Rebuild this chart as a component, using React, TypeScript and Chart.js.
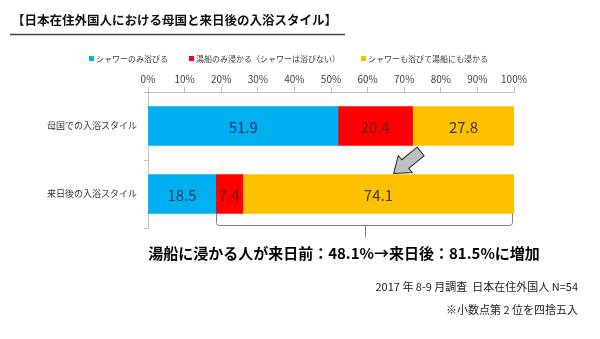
import { useEffect, useRef } from 'react';
import { Chart, registerables } from 'chart.js';

Chart.register(...registerables);

// Bathing style of foreign residents in Japan: home country vs. after arriving in Japan
const categories = ['母国での入浴スタイル', '来日後の入浴スタイル'];
const seriesNames = [
  'シャワーのみ浴びる',
  '湯船のみ浸かる（シャワーは浴びない）',
  'シャワーも浴びて湯船にも浸かる',
];
const showerOnly = [51.9, 18.5];
const bathOnly = [20.4, 7.4];
const showerAndBath = [27.8, 74.1];
const percentTicks = [0, 10, 20, 30, 40, 50, 60, 70, 80, 90, 100];

const titleText = '【日本在住外国人における母国と来日後の入浴スタイル】';
const summaryText = '湯船に浸かる人が来日前：48.1%→来日後：81.5%に増加';
const surveyNote = '2017 年 8-9 月調査  日本在住外国人 N=54';
const roundingNote = '※小数点第 2 位を四捨五入';

const seriesColors = ['#00B0F0', '#FF0000', '#FFC000'];
const valueLabelColors = ['#1F3864', '#6B1A1A', '#3A3A3A'];
const FONT = '"Noto Sans CJK JP", "Noto Sans", sans-serif';

const decorations = {
  id: 'decorations',
  beforeDraw(chart: any) {
    const { ctx, width, height } = chart;
    ctx.save();
    ctx.fillStyle = '#ffffff';
    ctx.fillRect(0, 0, width, height);
    ctx.restore();
  },
  afterDatasetsDraw(chart: any) {
    const { ctx } = chart;
    ctx.save();
    ctx.font = `15px ${FONT}`;
    ctx.textAlign = 'center';
    ctx.textBaseline = 'middle';
    chart.data.datasets.forEach((ds: any, di: number) => {
      const meta = chart.getDatasetMeta(di);
      meta.data.forEach((el: any, i: number) => {
        const { x, base, y } = el.getProps(['x', 'base', 'y'], true);
        ctx.fillStyle = valueLabelColors[di];
        ctx.fillText(Number(ds.data[i]).toFixed(1), (x + base) / 2, y + 1);
      });
    });
    ctx.restore();
  },
  afterDraw(chart: any) {
    const { ctx, scales } = chart;
    const xs = scales.x;
    ctx.save();

    // Title with underline
    ctx.font = `bold 12.5px ${FONT}`;
    ctx.fillStyle = '#111';
    ctx.textAlign = 'left';
    ctx.textBaseline = 'middle';
    ctx.fillText(titleText, 12, 20);
    ctx.strokeStyle = '#404040';
    ctx.lineWidth = 1.5;
    ctx.beginPath();
    ctx.moveTo(10, 34.5);
    ctx.lineTo(345, 34.5);
    ctx.stroke();

    // Legend
    ctx.font = `8px ${FONT}`;
    let lx = 89;
    seriesNames.forEach((name, i) => {
      ctx.fillStyle = seriesColors[i];
      ctx.fillRect(lx, 56, 5, 5);
      ctx.fillStyle = '#404040';
      ctx.fillText(name, lx + 7, 58.5);
      lx += 7 + ctx.measureText(name).width + 21;
    });

    // Block arrow between the two bars
    const bar1 = chart.getDatasetMeta(1).data[0].getProps(['x', 'y', 'height'], true);
    const tailX = bar1.x + 8;
    const tailY = bar1.y + bar1.height / 2 + 6;
    const tipX = tailX - 27;
    const tipY = tailY + 22;
    const ang = Math.atan2(tipY - tailY, tipX - tailX);
    const L = Math.hypot(tipX - tailX, tipY - tailY);
    const hl = 15, hw = 11, sw = 5.5;
    ctx.translate(tailX, tailY);
    ctx.rotate(ang);
    ctx.beginPath();
    ctx.moveTo(0, -sw);
    ctx.lineTo(L - hl, -sw);
    ctx.lineTo(L - hl, -hw);
    ctx.lineTo(L, 0);
    ctx.lineTo(L - hl, hw);
    ctx.lineTo(L - hl, sw);
    ctx.lineTo(0, sw);
    ctx.closePath();
    ctx.fillStyle = '#BFBFBF';
    ctx.fill();
    ctx.strokeStyle = '#262626';
    ctx.lineWidth = 1;
    ctx.stroke();
    ctx.setTransform(1, 0, 0, 1, 0, 0);

    // Bracket under the bath-taking portion of the second bar
    const bar2 = chart.getDatasetMeta(0).data[1].getProps(['x', 'y', 'height'], true);
    const bx1 = Math.round(xs.getPixelForValue(showerOnly[1])) + 0.5;
    const bx2 = Math.round(xs.getPixelForValue(100)) - 1.5;
    const top = bar2.y + bar2.height / 2;
    const bot = top + 12;
    const mid = Math.round((bx1 + bx2) / 2) + 0.5;
    ctx.strokeStyle = '#7F7F7F';
    ctx.lineWidth = 1;
    ctx.beginPath();
    ctx.moveTo(bx1, top);
    ctx.lineTo(bx1, bot - 3);
    ctx.quadraticCurveTo(bx1, bot, bx1 + 3, bot);
    ctx.lineTo(bx2 - 3, bot);
    ctx.quadraticCurveTo(bx2, bot, bx2, bot - 3);
    ctx.lineTo(bx2, top);
    ctx.moveTo(mid, bot);
    ctx.lineTo(mid, bot + 12);
    ctx.stroke();

    // Summary line and notes
    ctx.fillStyle = '#000';
    ctx.font = `bold 15px ${FONT}`;
    ctx.textAlign = 'center';
    ctx.fillText(summaryText, 344, 253);
    ctx.font = `11px ${FONT}`;
    ctx.fillStyle = '#222';
    ctx.textAlign = 'right';
    ctx.fillText(surveyNote, 578, 287);
    ctx.fillText(roundingNote, 578, 310);

    ctx.restore();
  },
};

export default function App() {
  const canvasRef = useRef<HTMLCanvasElement>(null);

  useEffect(() => {
    const values = [showerOnly, bathOnly, showerAndBath];
    const chart = new Chart(canvasRef.current as HTMLCanvasElement, {
      type: 'bar',
      data: {
        labels: categories,
        datasets: seriesNames.map((name, i) => ({
          label: name,
          data: values[i],
          backgroundColor: seriesColors[i],
          borderWidth: 0,
          barThickness: 39,
        })),
      },
      options: {
        indexAxis: 'y',
        animation: false,
        responsive: false,
        events: [],
        layout: { padding: { left: 0, right: 86, top: 60, bottom: 111 } },
        plugins: {
          legend: { display: false },
          title: { display: false },
          tooltip: { enabled: false },
        },
        scales: {
          x: {
            type: 'linear',
            position: 'top',
            stacked: true,
            min: 0,
            max: 100,
            afterBuildTicks: (s: any) => {
              s.ticks = percentTicks.map((v) => ({ value: v }));
            },
            afterFit: (s: any) => {
              s.height = 32;
            },
            grid: { drawOnChartArea: false, drawTicks: true, tickLength: 5, color: '#BFBFBF' },
            border: { color: '#BFBFBF' },
            ticks: {
              font: { family: FONT, size: 10 },
              color: '#404040',
              padding: 2,
              maxRotation: 0,
              callback: (v: any) => `${v}%`,
            },
          },
          y: {
            stacked: true,
            afterFit: (s: any) => {
              s.width = 148;
            },
            grid: { drawOnChartArea: false, drawTicks: true, tickLength: 4, color: '#BFBFBF', offset: true },
            border: { color: '#BFBFBF' },
            ticks: {
              font: { family: FONT, size: 9 },
              color: '#333333',
              padding: 7,
            },
          },
        },
      },
      plugins: [decorations],
    } as any);
    return () => chart.destroy();
  }, []);

  return (
    <div style={{ position: 'fixed', left: 0, top: 0, width: 600, height: 339, background: '#fff' }}>
      <canvas ref={canvasRef} width={600} height={339} style={{ display: 'block', width: 600, height: 339 }} />
    </div>
  );
}
